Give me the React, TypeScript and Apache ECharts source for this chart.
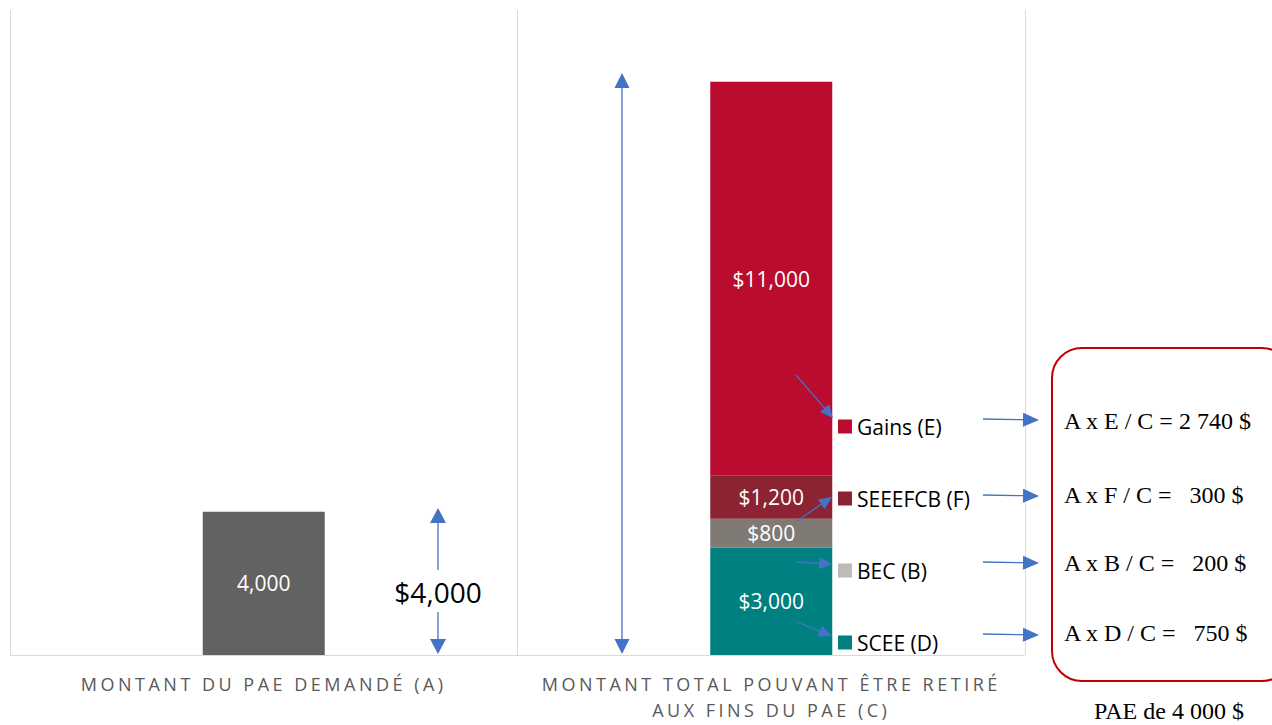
import React, { useEffect, useRef } from "react";
import * as echarts from "echarts";

const categories = [
  "MONTANT DU PAE DEMANDÉ (A)",
  "MONTANT TOTAL POUVANT ÊTRE RETIRÉ AUX FINS DU PAE (C)",
];
const requested = [4000, null];
const scee = [null, 3000];
const bec = [null, 800];
const seeefcb = [null, 1200];
const gains = [null, 11000];
const seriesNames = ["SCEE (D)", "BEC (B)", "SEEEFCB (F)", "Gains (E)"];
const legendOrder = ["Gains (E)", "SEEEFCB (F)", "BEC (B)", "SCEE (D)"];
const formulaLabels = [
  "A x E / C = 2 740 $",
  "A x F / C =   300 $",
  "A x B / C =   200 $",
  "A x D / C =   750 $",
];
const requestedLabel = "$4,000";
const footnote = "PAE de 4 000 $";

const BLUE = "#4472C4";

function arrowHead(x1: number, y1: number, x2: number, y2: number, len: number, w: number) {
  const dx = x2 - x1;
  const dy = y2 - y1;
  const L = Math.sqrt(dx * dx + dy * dy);
  const ux = dx / L;
  const uy = dy / L;
  const bx = x2 - ux * len;
  const by = y2 - uy * len;
  const nx = -uy;
  const ny = ux;
  return {
    base: [bx, by],
    el: {
      type: "polygon",
      z: 100,
      shape: {
        points: [
          [x2, y2],
          [bx + (nx * w) / 2, by + (ny * w) / 2],
          [bx - (nx * w) / 2, by - (ny * w) / 2],
        ],
      },
      style: { fill: BLUE },
    },
  };
}

function arrow(x1: number, y1: number, x2: number, y2: number, len = 14, w = 13): any[] {
  const h = arrowHead(x1, y1, x2, y2, len, w);
  return [
    {
      type: "line",
      z: 100,
      shape: { x1, y1, x2: h.base[0], y2: h.base[1] },
      style: { stroke: BLUE, lineWidth: 1.3 },
    },
    h.el,
  ];
}

function fmtMoney(v: number) {
  return "$" + v.toLocaleString("en-US");
}

export default function App() {
  const ref = useRef<HTMLDivElement>(null);
  useEffect(() => {
    document.body.style.margin = "0";
    const chart = echarts.init(ref.current!, null, { renderer: "svg" });
    const barLabel = {
      show: true,
      color: "#ffffff",
      fontSize: 21,
      fontFamily: "Open Sans",
      formatter: (p: any) => fmtMoney(p.value),
    };
    const graphics: any[] = [];
    // $4,000 double arrow
    graphics.push(...arrow(438, 570, 438, 508, 15, 16));
    graphics.push(...arrow(438, 612, 438, 654, 15, 16));
    graphics.push({
      type: "text",
      z: 100,
      x: 438,
      y: 592,
      style: {
        text: requestedLabel,
        fill: "#000000",
        font: "28px 'Open Sans'",
        align: "center",
        verticalAlign: "middle",
      },
    });
    // long double arrow
    graphics.push({
      type: "line",
      z: 100,
      shape: { x1: 622, y1: 88, x2: 622, y2: 640 },
      style: { stroke: BLUE, lineWidth: 1.3 },
    });
    graphics.push(arrowHead(622, 100, 622, 73, 15, 15).el);
    graphics.push(arrowHead(622, 600, 622, 654, 15, 15).el);
    // diagonal arrows into legend
    graphics.push(...arrow(796, 375, 833, 418, 13, 12));
    graphics.push(...arrow(797, 521, 832, 497, 13, 12));
    graphics.push(...arrow(797, 562, 832, 564, 13, 12));
    graphics.push(...arrow(797, 622, 832, 636, 13, 12));
    // horizontal arrows to formulas
    const ys = [420, 496, 563, 635];
    ys.forEach((y) => graphics.push(...arrow(983, y - 1, 1039, y, 16, 14)));
    // rounded box
    graphics.push({
      type: "rect",
      z: 100,
      shape: { x: 1052, y: 348, width: 240, height: 333, r: 30 },
      style: { fill: "none", stroke: "#C00000", lineWidth: 2 },
    });
    const fys = [421, 495, 563, 633];
    formulaLabels.forEach((t, i) =>
      graphics.push({
        type: "text",
        z: 100,
        x: 1064,
        y: fys[i],
        style: {
          text: t,
          fill: "#000000",
          font: "24px 'Liberation Serif'",
          align: "left",
          verticalAlign: "middle",
        },
      })
    );
    graphics.push({
      type: "text",
      z: 100,
      x: 1169,
      y: 711,
      style: {
        text: footnote,
        fill: "#000000",
        font: "24px 'Liberation Serif'",
        align: "center",
        verticalAlign: "middle",
      },
    });

    const legendColors: Record<string, string> = {
      "Gains (E)": "#BA0C2F",
      "SEEEFCB (F)": "#8B2332",
      "BEC (B)": "#BEBAB6",
      "SCEE (D)": "#008080",
    };

    chart.setOption({
      animation: false,
      grid: { left: 10, right: 247, top: 10, bottom: 70 },
      legend: {
        orient: "vertical",
        left: 838,
        top: 416,
        padding: 0,
        itemWidth: 14,
        itemHeight: 14,
        itemGap: 51,
        icon: "rect",
        textStyle: {
          fontSize: 21,
          lineHeight: 20,
          fontFamily: "Open Sans",
          color: "#000000",
        },
        data: legendOrder.map((n) => ({ name: n, itemStyle: { color: legendColors[n] } })),
        selectedMode: false,
      },
      xAxis: {
        type: "category",
        data: categories,
        axisLine: { lineStyle: { color: "#d9d9d9", width: 1 } },
        axisTick: { show: false },
        splitLine: { show: true, lineStyle: { color: "#d9d9d9", width: 1 } },
        axisLabel: {
          interval: 0,
          color: "#595959",
          fontSize: 18,
          fontFamily: "Open Sans",
          margin: 16,
          lineHeight: 26,
          formatter: (v: string) => v.replace(" AUX", "\nAUX"),
        },
      },
      yAxis: { type: "value", min: 0, max: 18000, show: false, splitLine: { show: false } },
      graphic: graphics,
      series: [
        {
          name: "A",
          type: "bar",
          stack: "total",
          barWidth: 122,
          data: requested,
          itemStyle: { color: "#626262" },
          label: { ...barLabel, formatter: (p: any) => p.value.toLocaleString("en-US") },
        },
        {
          name: seriesNames[0],
          type: "bar",
          stack: "total",
          barWidth: 122,
          data: scee,
          itemStyle: { color: "#008080" },
          label: barLabel,
        },
        {
          name: seriesNames[1],
          type: "bar",
          stack: "total",
          barWidth: 122,
          data: bec,
          itemStyle: { color: "#7F7A73" },
          label: barLabel,
        },
        {
          name: seriesNames[2],
          type: "bar",
          stack: "total",
          barWidth: 122,
          data: seeefcb,
          itemStyle: { color: "#8B2332" },
          label: barLabel,
        },
        {
          name: seriesNames[3],
          type: "bar",
          stack: "total",
          barWidth: 122,
          data: gains,
          itemStyle: { color: "#BA0C2F" },
          label: barLabel,
        },
      ],
    });
    return () => chart.dispose();
  }, []);
  return (
    <>
      <style>{`#chart text[fill="#595959"]{letter-spacing:3.5px;}`}</style>
      <div id="chart" ref={ref} style={{ width: 1272, height: 725 }} />
    </>
  );
}
